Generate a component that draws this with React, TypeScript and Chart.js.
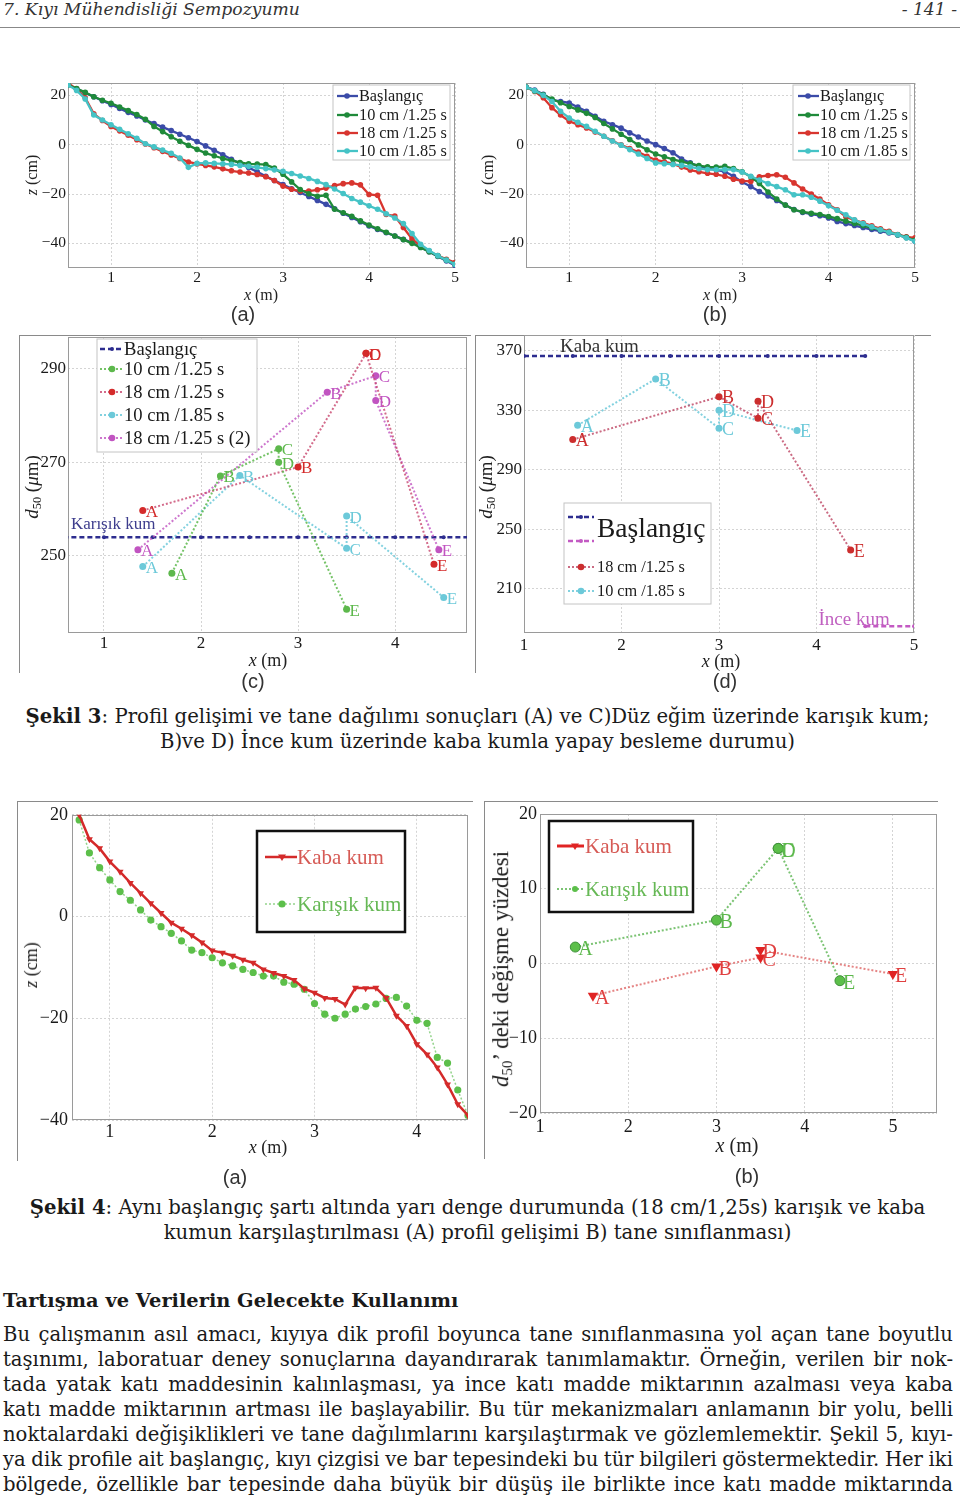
import React, { useEffect, useLayoutEffect, useRef } from 'react';
import { Chart, registerables } from 'chart.js';

Chart.register(...registerables);

const SERIF = '"Liberation Serif", "Times New Roman", serif';
const BODY = '"DejaVu Serif", serif';
const SANS = '"Liberation Sans", Arial, sans-serif';

// ================= DATA =================
// Şekil 3 (a), (b): profile positions x (m)
const PROFILE_X = [0.5, 0.6, 0.7, 0.8, 0.9, 1.0, 1.1, 1.2, 1.3, 1.4, 1.5, 1.6, 1.7, 1.8, 1.9, 2.0, 2.1, 2.2, 2.3, 2.4, 2.5, 2.6, 2.7, 2.8, 2.9, 3.0, 3.1, 3.2, 3.3, 3.4, 3.5, 3.6, 3.7, 3.8, 3.9, 4.0, 4.1, 4.2, 4.3, 4.4, 4.5, 4.6, 4.7, 4.8, 4.9, 5.0];

// (a) z (cm)
const A_BASLANGIC = [24.2, 22.6, 21.0, 19.4, 17.8, 16.3, 14.7, 13.1, 11.6, 10.0, 8.6, 7.1, 5.7, 4.2, 2.8, 1.3, -0.5, -2.3, -4.1, -5.9, -7.6, -9.3, -11.0, -12.8, -14.5, -16.2, -17.9, -19.4, -21.0, -22.6, -24.2, -26.0, -27.8, -29.5, -31.2, -33.0, -34.4, -35.7, -37.0, -38.4, -39.7, -41.6, -43.4, -45.3, -47.1, -49.0];
const A_10CM_125 = [24.2, 22.7, 21.2, 19.4, 18.0, 16.8, 15.3, 13.8, 12.2, 10.3, 7.4, 5.3, 3.2, 1.4, -0.3, -1.9, -3.4, -4.5, -5.6, -6.5, -7.2, -7.8, -7.9, -8.1, -9.5, -12.0, -15.1, -18.2, -19.9, -20.9, -20.5, -26.2, -27.6, -29.0, -30.9, -32.6, -34.1, -35.5, -37.0, -38.5, -40.0, -41.7, -43.4, -45.1, -46.8, -48.5];
const A_18CM_125 = [25.0, 22.5, 19.0, 12.5, 9.8, 7.4, 5.6, 3.8, 2.0, 0.3, -1.2, -2.7, -4.2, -5.6, -7.0, -7.8, -8.4, -9.0, -9.8, -10.6, -11.1, -11.5, -12.1, -13.0, -14.5, -16.8, -18.1, -18.8, -18.8, -18.3, -17.6, -16.6, -15.8, -15.5, -16.3, -20.2, -20.5, -28.3, -28.9, -33.6, -38.2, -41.0, -43.2, -45.0, -46.5, -47.8];
const A_10CM_185 = [24.2, 22.0, 18.5, 12.0, 10.0, 8.1, 6.2, 4.4, 2.6, 0.4, -0.9, -2.2, -3.5, -5.4, -9.2, -7.6, -7.4, -7.6, -7.8, -8.0, -8.4, -8.8, -9.2, -9.7, -10.2, -10.8, -11.7, -12.7, -13.7, -14.9, -16.2, -18.0, -19.8, -21.8, -23.3, -24.8, -26.2, -28.0, -29.7, -32.0, -36.0, -40.4, -42.9, -45.0, -46.8, -48.5];

// (b) z (cm)
const B_BASLANGIC = [23.4, 22.1, 20.4, 18.2, 17.5, 16.9, 15.2, 13.5, 11.5, 9.5, 8.1, 6.7, 4.8, 3.1, 1.5, 0.0, -1.6, -3.3, -5.8, -7.4, -8.9, -9.7, -10.2, -10.9, -12.8, -15.1, -17.0, -19.0, -20.8, -22.6, -24.5, -26.3, -27.5, -28.2, -28.8, -29.7, -31.1, -32.0, -32.8, -33.6, -34.4, -35.1, -35.8, -36.6, -37.6, -39.2];
const B_10CM_125 = [23.4, 21.8, 20.2, 18.5, 17.0, 15.5, 14.1, 12.7, 11.0, 8.6, 6.4, 4.2, 2.1, -0.1, -2.1, -3.8, -4.9, -6.0, -6.9, -7.7, -8.5, -9.0, -9.1, -8.8, -9.7, -11.0, -13.0, -15.7, -19.2, -22.0, -24.5, -26.4, -27.2, -27.8, -28.3, -29.1, -30.0, -31.0, -31.9, -32.8, -33.7, -34.5, -35.5, -36.5, -37.6, -38.8];
const B_18CM_125 = [23.4, 21.6, 19.0, 15.0, 12.0, 9.5, 8.1, 6.8, 5.1, 3.4, 1.6, -0.1, -1.6, -3.0, -4.7, -6.2, -6.9, -7.8, -9.1, -10.3, -11.0, -11.6, -12.0, -12.8, -14.0, -14.7, -14.9, -13.0, -12.5, -12.2, -13.2, -15.5, -18.0, -20.0, -22.0, -24.4, -26.4, -29.2, -30.6, -31.7, -32.9, -34.1, -35.1, -36.4, -37.4, -37.8];
const B_10CM_185 = [23.4, 21.9, 20.0, 17.5, 13.5, 10.8, 9.1, 7.4, 5.4, 3.4, 1.5, -0.2, -2.0, -3.8, -5.6, -7.4, -7.7, -8.0, -8.4, -9.0, -9.7, -10.1, -10.1, -10.1, -10.1, -11.1, -12.8, -14.3, -15.8, -17.0, -18.3, -20.3, -20.3, -21.3, -22.9, -24.8, -26.6, -28.4, -30.5, -32.0, -33.3, -34.5, -35.5, -36.5, -37.8, -39.2];

const PROFILE_X_TICKS = [1, 2, 3, 4, 5];
const PROFILE_Y_TICKS = [-40, -20, 0, 20];

// Şekil 3 (c): d50 (µm)
const POINT_NAMES = ['A', 'B', 'C', 'D', 'E'];
const C_BASE_X = [0.5, 1, 1.5, 2, 2.5, 3, 3.5, 4, 4.5, 5];
const C_BASE_Y = [254, 254, 254, 254, 254, 254, 254, 254, 254, 254];
const C_10CM_125_X = [1.7, 2.2, 2.8, 2.8, 3.5];
const C_10CM_125_Y = [246.3, 267.1, 272.9, 270.0, 238.6];
const C_18CM_125_X = [1.4, 3.0, 3.7, 3.7, 4.4];
const C_18CM_125_Y = [259.7, 269.0, 293.3, 293.3, 248.2];
const C_10CM_185_X = [1.4, 2.4, 3.5, 3.5, 4.5];
const C_10CM_185_Y = [247.7, 267.2, 251.6, 258.5, 241.1];
const C_18CM_125B_X = [1.35, 3.3, 3.8, 3.8, 4.45];
const C_18CM_125B_Y = [251.3, 285.0, 288.5, 283.2, 251.3];
const C_X_TICKS = [1, 2, 3, 4];
const C_Y_TICKS = [250, 270, 290];

// Şekil 3 (d): d50 (µm)
const D_KABA_X = [1, 1.5, 2, 2.5, 3, 3.5, 4, 4.5];
const D_KABA_Y = [366.4, 366.4, 366.4, 366.4, 366.4, 366.4, 366.4, 366.4];
const D_INCE_X = [4.5, 5];
const D_INCE_Y = [184.7, 184.7];
const D_18CM_125_X = [1.5, 3.0, 3.4, 3.4, 4.35];
const D_18CM_125_Y = [310.2, 339.0, 324.5, 335.9, 236.0];
const D_10CM_185_X = [1.55, 2.35, 3.0, 3.0, 3.8];
const D_10CM_185_Y = [319.8, 351.0, 317.8, 330.0, 316.3];
const D_X_TICKS = [1, 2, 3, 4, 5];
const D_Y_TICKS = [210, 250, 290, 330, 370];

// Şekil 4 (a): z (cm)
const F4A_X = [0.7, 0.8, 0.9, 1.0, 1.1, 1.2, 1.3, 1.4, 1.5, 1.6, 1.7, 1.8, 1.9, 2.0, 2.1, 2.2, 2.3, 2.4, 2.5, 2.6, 2.7, 2.8, 2.9, 3.0, 3.1, 3.2, 3.3, 3.4, 3.5, 3.6, 3.7, 3.8, 3.9, 4.0, 4.1, 4.2, 4.3, 4.4, 4.5];
const F4A_KABA = [20.0, 15.2, 13.4, 10.8, 8.8, 6.6, 4.6, 2.6, 0.7, -1.2, -2.4, -3.7, -5.1, -6.7, -7.1, -7.7, -8.5, -9.1, -10.4, -11.1, -11.7, -12.5, -14.2, -15.0, -16.0, -16.2, -17.3, -14.0, -14.1, -14.0, -16.0, -19.5, -21.5, -25.1, -27.1, -29.7, -33.0, -36.9, -39.1];
const F4A_KARISIK = [19.0, 12.5, 9.6, 7.2, 4.9, 3.2, 1.3, -0.7, -2.0, -3.3, -4.8, -6.6, -7.1, -8.1, -9.1, -9.7, -10.4, -11.0, -11.7, -11.7, -12.9, -13.3, -14.3, -17.1, -19.2, -20.0, -19.2, -18.2, -17.7, -17.2, -16.1, -15.9, -17.6, -20.4, -21.0, -27.7, -28.8, -34.1, -39.1];
const F4A_X_TICKS = [1, 2, 3, 4];
const F4A_Y_TICKS = [-40, -20, 0, 20];

// Şekil 4 (b): d50 change (%)
const F4B_KABA_X = [1.6, 3.0, 3.5, 3.5, 5.0];
const F4B_KABA_Y = [-4.3, -0.4, 0.8, 1.8, -1.4];
const F4B_KARISIK_X = [1.4, 3.0, 3.7, 3.7, 4.4];
const F4B_KARISIK_Y = [2.2, 5.8, 15.4, 15.4, -2.3];
const F4B_X_TICKS = [1, 2, 3, 4, 5];
const F4B_Y_TICKS = [-20, -10, 0, 10, 20];

const PARAGRAPH = [
  'Bu çalışmanın asıl amacı, kıyıya dik profil boyunca tane sınıflanmasına yol açan tane boyutlu',
  'taşınımı, laboratuar deney sonuçlarına dayandırarak tanımlamaktır. Örneğin, verilen bir nok-',
  'tada yatak katı maddesinin kalınlaşması, ya ince katı madde miktarının azalması veya kaba',
  'katı madde miktarının artması ile başlayabilir. Bu tür mekanizmaları anlamanın bir yolu, belli',
  'noktalardaki değişiklikleri ve tane dağılımlarını karşılaştırmak ve gözlemlemektir. Şekil 5, kıyı-',
  'ya dik profile ait başlangıç, kıyı çizgisi ve bar tepesindeki bu tür bilgileri göstermektedir. Her iki',
  'bölgede, özellikle bar tepesinde daha büyük bir düşüş ile birlikte ince katı madde miktarında',
];

// ================= HELPERS =================
const pts = (xs: number[], ys: number[]) => xs.map((x, i) => ({ x, y: ys[i] }));
const fmtTick = (v: number) => (v < 0 ? '\u2212' + String(Math.abs(v)) : String(v));

function drawMarker(ctx: CanvasRenderingContext2D, style: string, x: number, y: number, r: number, fill: string) {
  ctx.beginPath();
  if (style === 'triangle') {
    ctx.moveTo(x - r, y - r * 0.6);
    ctx.lineTo(x + r, y - r * 0.6);
    ctx.lineTo(x, y + r);
    ctx.closePath();
  } else {
    ctx.arc(x, y, r, 0, Math.PI * 2);
  }
  ctx.fillStyle = fill;
  ctx.fill();
}

const framePlugin = {
  id: 'frame',
  beforeDatasetsDraw(chart: any) {
    const { ctx, chartArea: a } = chart;
    ctx.save();
    ctx.strokeStyle = '#9a9a9a';
    ctx.lineWidth = 1;
    ctx.strokeRect(Math.round(a.left) + 0.5, Math.round(a.top) + 0.5, Math.round(a.right - a.left) - 1, Math.round(a.bottom - a.top) - 1);
    ctx.restore();
  },
};

const pointLabelPlugin = {
  id: 'ptLabels',
  afterDatasetsDraw(chart: any) {
    const { ctx } = chart;
    chart.data.datasets.forEach((ds: any, i: number) => {
      if (!ds.ptLabels) return;
      const meta = chart.getDatasetMeta(i);
      ctx.save();
      ctx.font = ds.labelFont;
      ctx.fillStyle = ds.labelColor;
      ctx.textBaseline = 'middle';
      ctx.textAlign = 'left';
      meta.data.forEach((el: any, j: number) => {
        ctx.fillText(ds.ptLabels[j], el.x + (ds.labelDx ?? 3), el.y + (ds.labelDy ?? 2));
      });
      ctx.restore();
    });
  },
};

type Note = { x: number; y: number; text: string; color: string; font: string };
function notesPlugin(notes: Note[]) {
  return {
    id: 'notes',
    afterDatasetsDraw(chart: any) {
      const { ctx, scales } = chart;
      ctx.save();
      notes.forEach((n) => {
        ctx.font = n.font;
        ctx.fillStyle = n.color;
        ctx.textBaseline = 'middle';
        ctx.textAlign = 'left';
        ctx.fillText(n.text, scales.x.getPixelForValue(n.x), scales.y.getPixelForValue(n.y));
      });
      ctx.restore();
    },
  };
}

type LegendItem = { ds: number; y: number; text?: string; color?: string; solid?: boolean; lineWidth?: number };
type LegendSpec = {
  x: number; y: number; w: number; h: number;
  borderColor: string; borderWidth: number;
  sx0: number; sx1: number; mx: number; tx: number;
  font: string; textColor: string;
  items: LegendItem[];
  texts?: { text: string; x: number; y: number; font: string; color: string }[];
};
function legendPlugin(spec: LegendSpec, ox: number, oy: number) {
  return {
    id: 'boxLegend',
    afterDraw(chart: any) {
      const ctx: CanvasRenderingContext2D = chart.ctx;
      ctx.save();
      ctx.fillStyle = '#fff';
      ctx.fillRect(spec.x - ox, spec.y - oy, spec.w, spec.h);
      ctx.lineWidth = spec.borderWidth;
      ctx.strokeStyle = spec.borderColor;
      ctx.strokeRect(spec.x - ox, spec.y - oy, spec.w, spec.h);
      spec.items.forEach((it) => {
        const ds = chart.data.datasets[it.ds];
        const y = it.y - oy;
        ctx.save();
        ctx.strokeStyle = it.solid ? ds.pointBackgroundColor : ds.borderColor;
        ctx.lineWidth = it.lineWidth ?? ds.borderWidth;
        ctx.setLineDash(it.solid ? [] : ds.borderDash || []);
        ctx.beginPath();
        ctx.moveTo(spec.sx0 - ox, y);
        ctx.lineTo(spec.sx1 - ox, y);
        ctx.stroke();
        ctx.setLineDash([]);
        if (ds.pointRadius > 0) drawMarker(ctx, ds.pointStyle, spec.mx - ox, y, ds.legendMarker ?? ds.pointRadius, ds.pointBackgroundColor);
        ctx.restore();
        if (it.text) {
          ctx.font = spec.font;
          ctx.fillStyle = it.color || spec.textColor;
          ctx.textBaseline = 'middle';
          ctx.textAlign = 'left';
          ctx.fillText(it.text, spec.tx - ox, y + 1);
        }
      });
      (spec.texts || []).forEach((t) => {
        ctx.font = t.font;
        ctx.fillStyle = t.color;
        ctx.textBaseline = 'middle';
        ctx.textAlign = 'left';
        ctx.fillText(t.text, t.x - ox, t.y - oy);
      });
      ctx.restore();
    },
  };
}

type AxisSpec = { min: number; max: number; ticks: number[]; font: number; pad: number };
type PanelSpec = {
  plot: { l: number; t: number; r: number; b: number };
  pad: { l: number; t: number; r: number; b: number };
  x: AxisSpec; y: AxisSpec;
  datasets: any[];
  legend?: LegendSpec;
  notes?: Note[];
};

function buildConfig(spec: PanelSpec, ox: number, oy: number): any {
  const plugins: any[] = [framePlugin, pointLabelPlugin];
  if (spec.notes) plugins.push(notesPlugin(spec.notes));
  if (spec.legend) plugins.push(legendPlugin(spec.legend, ox, oy));
  const axis = (a: AxisSpec, isX: boolean) => ({
    type: 'linear',
    min: a.min,
    max: a.max,
    afterBuildTicks: (s: any) => { s.ticks = a.ticks.map((v) => ({ value: v })); },
    afterFit: (s: any) => { if (isX) s.height = spec.pad.b; else s.width = spec.pad.l; },
    grid: { color: '#d4d4d4', lineWidth: 1, drawTicks: false },
    border: { display: false, dash: [2, 2] },
    ticks: {
      padding: a.pad, autoSkip: false, maxRotation: 0, minRotation: 0, color: '#1a1a1a',
      font: { family: SERIF, size: a.font },
      callback: (v: any) => fmtTick(Number(v)),
    },
  });
  return {
    type: 'line',
    data: { datasets: spec.datasets },
    options: {
      animation: false,
      responsive: false,
      events: [],
      layout: { padding: { left: 0, top: spec.pad.t, right: spec.pad.r, bottom: 0 } },
      scales: { x: axis(spec.x, true), y: axis(spec.y, false) },
      plugins: { legend: { display: false }, tooltip: { enabled: false }, title: { display: false } },
      elements: { line: { tension: 0 } },
    },
    plugins,
  };
}

function ChartPanel({ spec }: { spec: PanelSpec }) {
  const ref = useRef<HTMLCanvasElement>(null);
  const cw = spec.plot.r - spec.plot.l + spec.pad.l + spec.pad.r;
  const ch = spec.plot.b - spec.plot.t + spec.pad.t + spec.pad.b;
  const ox = spec.plot.l - spec.pad.l;
  const oy = spec.plot.t - spec.pad.t;
  useEffect(() => {
    const chart = new Chart(ref.current as HTMLCanvasElement, buildConfig(spec, ox, oy));
    return () => chart.destroy();
  }, []);
  return <canvas ref={ref} width={cw} height={ch} style={{ position: 'absolute', left: ox, top: oy, width: cw, height: ch }} />;
}

// ================= STYLES / SPECS =================
const COL = {
  blue: '#3b4ba8', dgreen: '#1f8a3a', red: '#d8352f', cyan: '#45c3c6',
  navy: '#2d2d8f', green: '#5db84c', lred: '#d42a2a', lcyan: '#6cc9d9', magenta: '#c154c1',
};

const profileDs = (label: string, ys: number[], color: string, order: number) => ({
  label, data: pts(PROFILE_X, ys), borderColor: color, backgroundColor: color,
  borderWidth: 2.3, pointRadius: 2.8, pointStyle: 'circle', pointBackgroundColor: color,
  pointBorderColor: color, pointBorderWidth: 0, order, legendMarker: 2.8,
});

const dotDs = (label: string, xs: number[], ys: number[], color: string, line: string, size: number) => ({
  label, data: pts(xs, ys), borderColor: line, backgroundColor: color, borderWidth: 2, borderDash: [2, 2],
  pointRadius: 3.5, pointStyle: 'circle', pointBackgroundColor: color, pointBorderColor: color, pointBorderWidth: 0,
  ptLabels: POINT_NAMES, labelColor: color, labelFont: `${size}px ${SERIF}`, legendMarker: 3.3,
});

const baseDs = (label: string, xs: number[], ys: number[], color: string) => ({
  label, data: pts(xs, ys), borderColor: color, backgroundColor: color, borderWidth: 2.5, borderDash: [5, 3],
  pointRadius: 2, pointStyle: 'circle', pointBackgroundColor: color, pointBorderColor: color, pointBorderWidth: 0,
  legendMarker: 2, order: 10,
});

const topLegend = (x: number, sx: number, tx: number): LegendSpec => ({
  x, y: 85, w: 117, h: 75, borderColor: '#c4c4c4', borderWidth: 1,
  sx0: sx, sx1: sx + 21, mx: sx + 10, tx, font: `16.3px ${SERIF}`, textColor: '#1a1a1a',
  items: [
    { ds: 0, y: 96, text: 'Başlangıç' },
    { ds: 1, y: 115, text: '10 cm /1.25 s' },
    { ds: 2, y: 133, text: '18 cm /1.25 s' },
    { ds: 3, y: 151, text: '10 cm /1.85 s' },
  ],
});

const SPEC_A: PanelSpec = {
  plot: { l: 68, t: 83, r: 455, b: 268 },
  pad: { l: 60, t: 14, r: 14, b: 30 },
  x: { min: 0.5, max: 5, ticks: PROFILE_X_TICKS, font: 15.5, pad: 1 },
  y: { min: -50, max: 25, ticks: PROFILE_Y_TICKS, font: 15.5, pad: 2 },
  datasets: [
    profileDs('Başlangıç', A_BASLANGIC, COL.blue, 4),
    profileDs('10 cm /1.25 s', A_10CM_125, COL.dgreen, 2),
    profileDs('18 cm /1.25 s', A_18CM_125, COL.red, 3),
    profileDs('10 cm /1.85 s', A_10CM_185, COL.cyan, 1),
  ],
  legend: topLegend(333, 337, 359),
};

const SPEC_B: PanelSpec = {
  plot: { l: 526, t: 83, r: 915, b: 268 },
  pad: { l: 50, t: 14, r: 14, b: 30 },
  x: { min: 0.5, max: 5, ticks: PROFILE_X_TICKS, font: 15.5, pad: 1 },
  y: { min: -50, max: 25, ticks: PROFILE_Y_TICKS, font: 15.5, pad: 2 },
  datasets: [
    profileDs('Başlangıç', B_BASLANGIC, COL.blue, 4),
    profileDs('10 cm /1.25 s', B_10CM_125, COL.dgreen, 2),
    profileDs('18 cm /1.25 s', B_18CM_125, COL.red, 3),
    profileDs('10 cm /1.85 s', B_10CM_185, COL.cyan, 1),
  ],
  legend: topLegend(793, 798, 820),
};

const SPEC_C: PanelSpec = {
  plot: { l: 68, t: 337, r: 467, b: 633 },
  pad: { l: 55, t: 14, r: 5, b: 30 },
  x: { min: 0.63, max: 4.74, ticks: C_X_TICKS, font: 17, pad: 0 },
  y: { min: 233.5, max: 296.8, ticks: C_Y_TICKS, font: 17, pad: 2 },
  datasets: [
    baseDs('Başlangıç', C_BASE_X, C_BASE_Y, COL.navy),
    dotDs('10 cm /1.25 s', C_10CM_125_X, C_10CM_125_Y, COL.green, 'rgba(93,184,76,0.85)', 17),
    dotDs('18 cm /1.25 s', C_18CM_125_X, C_18CM_125_Y, COL.lred, 'rgba(200,70,110,0.8)', 17),
    dotDs('10 cm /1.85 s', C_10CM_185_X, C_10CM_185_Y, COL.lcyan, 'rgba(108,201,217,0.85)', 17),
    dotDs('18 cm /1.25 s (2)', C_18CM_125B_X, C_18CM_125B_Y, COL.magenta, 'rgba(193,84,193,0.8)', 17),
  ],
  notes: [{ x: 0.66, y: 256.6, text: 'Karışık kum', color: '#3d3d8d', font: `17px ${SERIF}` }],
  legend: {
    x: 97, y: 339, w: 160, h: 113, borderColor: '#c4c4c4', borderWidth: 1,
    sx0: 100, sx1: 122, mx: 112, tx: 124, font: `18.6px ${SERIF}`, textColor: '#1a1a1a',
    items: [
      { ds: 0, y: 349, text: 'Başlangıç' },
      { ds: 1, y: 369, text: '10 cm /1.25 s' },
      { ds: 2, y: 392, text: '18 cm /1.25 s' },
      { ds: 3, y: 415, text: '10 cm /1.85 s' },
      { ds: 4, y: 438, text: '18 cm /1.25 s (2)' },
    ],
  },
};

const SPEC_D: PanelSpec = {
  plot: { l: 524, t: 335, r: 914, b: 633 },
  pad: { l: 48, t: 14, r: 14, b: 30 },
  x: { min: 1, max: 5, ticks: D_X_TICKS, font: 17, pad: 2 },
  y: { min: 180.2, max: 380.5, ticks: D_Y_TICKS, font: 17, pad: 2 },
  datasets: [
    baseDs('Kaba kum', D_KABA_X, D_KABA_Y, COL.navy),
    baseDs('İnce kum', D_INCE_X, D_INCE_Y, '#c35ac3'),
    dotDs('18 cm /1.25 s', D_18CM_125_X, D_18CM_125_Y, '#cc2e2e', 'rgba(190,70,100,0.8)', 18),
    dotDs('10 cm /1.85 s', D_10CM_185_X, D_10CM_185_Y, COL.lcyan, 'rgba(108,201,217,0.85)', 18),
  ],
  notes: [
    { x: 1.37, y: 372.5, text: 'Kaba kum', color: '#333', font: `19px ${SERIF}` },
    { x: 4.02, y: 189.2, text: 'İnce kum', color: '#c060c0', font: `19px ${SERIF}` },
  ],
  legend: {
    x: 564, y: 503, w: 147, h: 101, borderColor: '#c4c4c4', borderWidth: 1,
    sx0: 568, sx1: 594, mx: 581, tx: 597, font: `16.3px ${SERIF}`, textColor: '#1a1a1a',
    items: [
      { ds: 0, y: 517 },
      { ds: 1, y: 541 },
      { ds: 2, y: 567, text: '18 cm /1.25 s' },
      { ds: 3, y: 591, text: '10 cm /1.85 s' },
    ],
    texts: [{ text: 'Başlangıç', x: 597, y: 530, font: `27.5px ${SERIF}`, color: '#1a1a1a' }],
  },
};

const SPEC_4A: PanelSpec = {
  plot: { l: 72, t: 814, r: 468, b: 1120 },
  pad: { l: 60, t: 14, r: 8, b: 30 },
  x: { min: 0.63, max: 4.5, ticks: F4A_X_TICKS, font: 18, pad: 1 },
  y: { min: -40, max: 20, ticks: F4A_Y_TICKS, font: 18, pad: 4 },
  datasets: [
    {
      label: 'Kaba kum', data: pts(F4A_X, F4A_KABA), borderColor: '#d42a2a', backgroundColor: '#d42a2a',
      borderWidth: 2.5, pointRadius: 4, pointStyle: 'triangle', pointRotation: 180,
      pointBackgroundColor: '#d42a2a', pointBorderColor: '#d42a2a', pointBorderWidth: 0, legendMarker: 4, order: 1,
    },
    {
      label: 'Karışık kum', data: pts(F4A_X, F4A_KARISIK), borderColor: 'rgba(120,200,110,0.8)', backgroundColor: '#5cbf4a',
      borderWidth: 1.5, borderDash: [2, 2], pointRadius: 3.6, pointStyle: 'circle',
      pointBackgroundColor: '#5cbf4a', pointBorderColor: '#5cbf4a', pointBorderWidth: 0, legendMarker: 3.6, order: 2,
    },
  ],
  legend: {
    x: 257, y: 831, w: 148, h: 101, borderColor: '#111', borderWidth: 2.5,
    sx0: 265, sx1: 297, mx: 282, tx: 297, font: `21px ${SERIF}`, textColor: '#1a1a1a',
    items: [
      { ds: 0, y: 857, text: 'Kaba kum', color: '#d65a55' },
      { ds: 1, y: 904, text: 'Karışık kum', color: '#66b855' },
    ],
  },
};

const SPEC_4B: PanelSpec = {
  plot: { l: 540, t: 814, r: 937, b: 1113 },
  pad: { l: 50, t: 14, r: 12, b: 30 },
  x: { min: 1, max: 5.5, ticks: F4B_X_TICKS, font: 18, pad: 3 },
  y: { min: -20, max: 20, ticks: F4B_Y_TICKS, font: 18, pad: 3 },
  datasets: [
    {
      label: 'Kaba kum', data: pts(F4B_KABA_X, F4B_KABA_Y), borderColor: 'rgba(225,110,110,0.85)', backgroundColor: '#e02424',
      borderWidth: 2, borderDash: [2, 2], pointRadius: 6, pointStyle: 'triangle', pointRotation: 180,
      pointBackgroundColor: '#e02424', pointBorderColor: '#e02424', pointBorderWidth: 0,
      ptLabels: POINT_NAMES, labelColor: '#e04040', labelFont: `20px ${SERIF}`, labelDx: 2, labelDy: 3, legendMarker: 4, order: 1,
    },
    {
      label: 'Karışık kum', data: pts(F4B_KARISIK_X, F4B_KARISIK_Y), borderColor: 'rgba(100,185,90,0.85)', backgroundColor: '#5cbf4a',
      borderWidth: 2, borderDash: [2, 2], pointRadius: 5, pointStyle: 'circle',
      pointBackgroundColor: '#5cbf4a', pointBorderColor: '#3f8f3a', pointBorderWidth: 1,
      ptLabels: POINT_NAMES, labelColor: '#5cb84c', labelFont: `20px ${SERIF}`, labelDx: 3, labelDy: 3, legendMarker: 3, order: 2,
    },
  ],
  legend: {
    x: 549, y: 821, w: 144, h: 91, borderColor: '#111', borderWidth: 2.5,
    sx0: 557, sx1: 584, mx: 575, tx: 585, font: `21px ${SERIF}`, textColor: '#1a1a1a',
    items: [
      { ds: 0, y: 846, text: 'Kaba kum', color: '#d65a55', solid: true, lineWidth: 3 },
      { ds: 1, y: 889, text: 'Karışık kum', color: '#66b855' },
    ],
  },
};

// ================= HTML TEXT HELPERS =================
const Txt = ({ x, y, rot, style, children }: any) => (
  <div style={{
    position: 'absolute', left: x, top: y, whiteSpace: 'nowrap', lineHeight: 1,
    transform: `translate(-50%, -50%)${rot ? ' rotate(-90deg)' : ''}`, ...style,
  }}>{children}</div>
);

const Frame = ({ l, t, w, h }: any) => (
  <div style={{ position: 'absolute', left: l, top: t, width: w, height: h, borderLeft: '1px solid #8a8a8a', borderTop: '1px solid #8a8a8a' }} />
);

// A justified line of body text: word spacing is computed so the line fills its width exactly.
function FitLine({ text, left, top, width, size }: { text: string; left: number; top: number; width: number; size: number }) {
  const ref = useRef<HTMLSpanElement>(null);
  useLayoutEffect(() => {
    const el = ref.current as HTMLSpanElement;
    el.style.wordSpacing = '0px';
    el.style.letterSpacing = '0px';
    const w0 = el.getBoundingClientRect().width;
    const spaces = (text.match(/ /g) || []).length;
    let ws = spaces ? (width - w0) / spaces : 0;
    let ls = 0;
    if (ws < -2.4) {
      ls = (width - w0 + 2.4 * spaces) / text.length;
      ws = -2.4;
    }
    el.style.wordSpacing = ws + 'px';
    el.style.letterSpacing = ls + 'px';
  }, []);
  return (
    <span ref={ref} style={{ position: 'absolute', left, top, whiteSpace: 'pre', fontSize: size, lineHeight: '25px' }}>{text}</span>
  );
}

const zTitle = <span><i>z</i> (cm)</span>;
const xTitle = <span><i>x</i> (m)</span>;
const dTitle = <span><i>d</i><sub style={{ fontSize: '0.65em', verticalAlign: '-0.25em' }}>50</sub> (<i>μ</i>m)</span>;

export default function App() {
  const axisT = (size: number) => ({ fontFamily: SERIF, fontSize: size, color: '#222' });
  const panelT = { fontFamily: SANS, fontSize: 20, color: '#333' };
  const cap: any = { position: 'absolute', left: 0, width: 955, textAlign: 'center', fontSize: 19.7, lineHeight: '25px', height: 25, whiteSpace: 'nowrap' };
  return (
    <div style={{ position: 'absolute', left: 0, top: 0, width: 960, height: 1496, background: '#fff', overflow: 'hidden', fontFamily: BODY, color: '#1a1a1a' }}>
      {/* header */}
      <div style={{ position: 'absolute', left: 3, top: -1, fontStyle: 'italic', fontSize: 17.2, lineHeight: '20px', whiteSpace: 'nowrap', color: '#333' }}>7. Kıyı Mühendisliği Sempozyumu</div>
      <div style={{ position: 'absolute', right: 3, top: -1, fontStyle: 'italic', fontSize: 17.2, lineHeight: '20px', whiteSpace: 'nowrap', color: '#333' }}>- 141 -</div>
      <div style={{ position: 'absolute', left: 0, top: 27, width: 960, height: 0, borderTop: '1px solid #888' }} />

      {/* panel frames */}
      <Frame l={19} t={335} w={451} h={337} />
      <Frame l={475} t={335} w={455} h={337} />
      <Frame l={17} t={801} w={455} h={359} />
      <Frame l={484} t={801} w={453} h={357} />

      <ChartPanel spec={SPEC_A} />
      <ChartPanel spec={SPEC_B} />
      <ChartPanel spec={SPEC_C} />
      <ChartPanel spec={SPEC_D} />
      <ChartPanel spec={SPEC_4A} />
      <ChartPanel spec={SPEC_4B} />

      {/* axis titles & panel letters */}
      <Txt x={32} y={175} rot style={axisT(16)}>{zTitle}</Txt>
      <Txt x={488} y={175} rot style={axisT(16)}>{zTitle}</Txt>
      <Txt x={261} y={295} style={axisT(16)}>{xTitle}</Txt>
      <Txt x={720} y={295} style={axisT(16)}>{xTitle}</Txt>
      <Txt x={243} y={314} style={panelT}>(a)</Txt>
      <Txt x={715} y={314} style={panelT}>(b)</Txt>

      <Txt x={33} y={487} rot style={axisT(19)}>{dTitle}</Txt>
      <Txt x={487} y={487} rot style={axisT(19)}>{dTitle}</Txt>
      <Txt x={268} y={660} style={axisT(18)}>{xTitle}</Txt>
      <Txt x={721} y={661} style={axisT(18)}>{xTitle}</Txt>
      <Txt x={253} y={681} style={panelT}>(c)</Txt>
      <Txt x={725} y={681} style={panelT}>(d)</Txt>

      <Txt x={31} y={965} rot style={axisT(18)}>{zTitle}</Txt>
      <Txt x={502} y={969} rot style={axisT(23)}><span><i>d</i><sub style={{ fontSize: '0.65em', verticalAlign: '-0.25em' }}>50</sub>’ deki değişme yüzdesi</span></Txt>
      <Txt x={268} y={1147} style={axisT(18)}>{xTitle}</Txt>
      <Txt x={737} y={1145} style={axisT(20)}>{xTitle}</Txt>
      <Txt x={235} y={1177} style={panelT}>(a)</Txt>
      <Txt x={747} y={1176} style={panelT}>(b)</Txt>

      {/* captions */}
      <div style={{ ...cap, top: 704 }}><b>Şekil 3</b>: Profil gelişimi ve tane dağılımı sonuçları (A) ve C)Düz eğim üzerinde karışık kum;</div>
      <div style={{ ...cap, top: 729 }}>B)ve D) İnce kum üzerinde kaba kumla yapay besleme durumu)</div>
      <div style={{ ...cap, top: 1195 }}><b>Şekil 4</b>: Aynı başlangıç şartı altında yarı denge durumunda (18 cm/1,25s) karışık ve kaba</div>
      <div style={{ ...cap, top: 1220 }}>kumun karşılaştırılması (A) profil gelişimi B) tane sınıflanması)</div>

      <div style={{ position: 'absolute', left: 3, top: 1288, fontWeight: 'bold', fontSize: 19.4, lineHeight: '25px', whiteSpace: 'nowrap' }}>Tartışma ve Verilerin Gelecekte Kullanımı</div>
      {PARAGRAPH.map((line, i) => (
        <FitLine key={i} text={line} left={3} top={1322 + i * 25} width={950} size={19.6} />
      ))}
    </div>
  );
}
